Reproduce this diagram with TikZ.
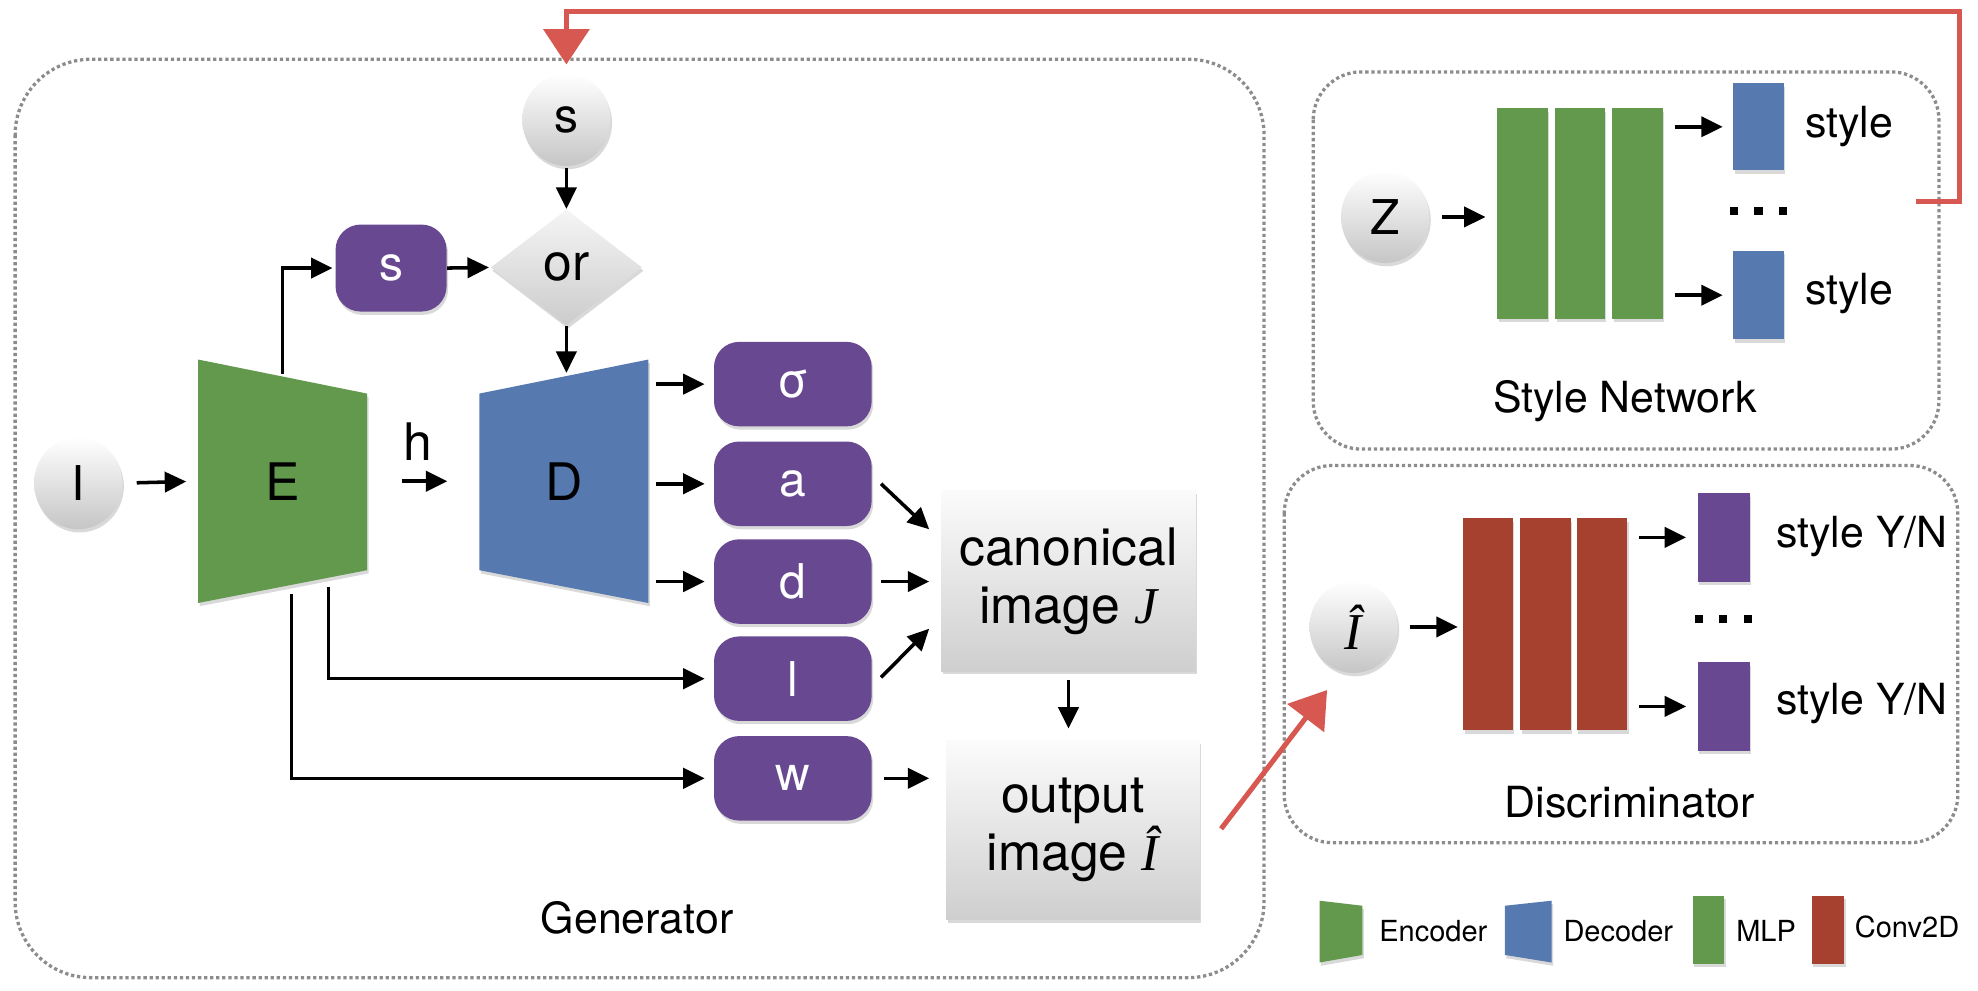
\documentclass[tikz,border=0pt]{standalone}
\usepackage{fontspec}
\setmainfont{TeX Gyre Heros}
\newfontfamily\timesfont{Liberation Serif}
\usetikzlibrary{shapes.geometric,arrows.meta,shadows,calc}
\definecolor{encgreen}{RGB}{98,153,76}
\definecolor{decblue}{RGB}{86,122,176}
\definecolor{purp}{RGB}{104,73,145}
\definecolor{convred}{RGB}{166,65,48}
\definecolor{redarrow}{RGB}{214,88,80}
\definecolor{dotgray}{RGB}{140,140,140}
\newcommand\fbig{\fontsize{20.5}{24}\selectfont}
\newcommand\fball{\fontsize{19}{22}\selectfont}
\newcommand\fpar{\fontsize{19}{22}\selectfont}
\newcommand\flab{\fontsize{17}{20}\selectfont}
\newcommand\fleg{\fontsize{11.5}{14}\selectfont}
\newcommand\timesit{\timesfont\itshape}
\begin{document}
\begin{tikzpicture}[x=0.5pt,y=-0.5pt,
  shad/.style={drop shadow={opacity=0.3,shadow xshift=0.6pt,shadow yshift=-1.3pt}},
  grp/.style={draw=dotgray,line width=1.3pt,dash pattern=on 1.3pt off 1.1pt},
  ball/.style={ellipse,minimum width=35pt,minimum height=36.5pt,inner sep=0pt,
    top color=white,bottom color=gray!45,shad,font=\fball},
  param/.style={rectangle,rounded corners=10pt,fill=purp,text=white,minimum width=62.5pt,
    minimum height=33.5pt,inner sep=0pt,font=\fpar,shad},
  imgbox/.style={rectangle,top color=gray!3,bottom color=gray!38,align=center,inner sep=0pt,
    font=\fbig,shad},
  bar/.style={rectangle,inner sep=0pt,minimum width=20pt,shad},
  arr/.style={-{Triangle[length=8.5pt,width=8pt]},line width=1.4pt},
  redarr/.style={draw=redarrow,line width=2pt,-{Triangle[length=14pt,width=18pt]}},
  lab/.style={font=\flab,inner sep=0pt},
  leg/.style={font=\fleg,inner sep=0pt,anchor=west}]
\useasboundingbox (0,0) rectangle (1568,785);

% group boxes
\draw[grp,rounded corners=30pt] (12,47) rectangle (1002,775);
\draw[grp,rounded corners=19pt] (1041,57) rectangle (1537,356);
\draw[grp,rounded corners=19pt] (1018,369) rectangle (1552,668);
\node[lab] (genlab) at (505,728) {Generator};
\node[lab] (stylab) at (1288,318) {Style Network};
\node[lab] (dislab) at (1292,636) {Discriminator};

% encoder / decoder shapes
\fill[encgreen,shad] (157,285) -- (291,312) -- (291,452) -- (157,478) -- cycle;
\fill[decblue,shad] (380,312) -- (514,285) -- (514,478) -- (380,452) -- cycle;
\node[minimum width=67pt,minimum height=96.5pt,inner sep=0pt,font=\fbig] (E) at (224,381.5) {E};
\node[minimum width=67pt,minimum height=96.5pt,inner sep=0pt,font=\fbig] (D) at (447,381.5) {D};

% generator nodes
\node[ball] (I) at (62,383) {I};
\node[ball] (s0) at (449,95) {s};
\node[param,minimum width=44pt,minimum height=34.5pt] (sb) at (310,212.5) {s};
\node[diamond,minimum width=60pt,minimum height=46pt,inner sep=0pt,top color=gray!8,
  bottom color=gray!40,shad,font=\fbig] (or) at (449,212) {or};
\node[font=\fbig,inner sep=0pt] (h) at (331,350) {h};
\node[param] (sig) at (628.5,304.5) {σ};
\node[param] (a) at (628.5,383.5) {a};
\node[param] (d) at (628.5,461) {d};
\node[param] (l) at (628.5,538) {l};
\node[param] (w) at (628.5,617) {w};
\node[imgbox,minimum width=101pt,minimum height=71.5pt] (canon) at (847,460.5)
  {canonical\\[-1pt]image {\timesit J}};
\node[imgbox,minimum width=100.5pt,minimum height=71pt] (out) at (850.5,658)
  {output\\[-1pt]image {\timesit Î}};

% generator connectors
\draw[arr,shorten <=5.5pt,shorten >=4.5pt] (I.east) -- (E.west);
\draw[arr,shorten <=13.5pt,shorten >=12.5pt] (E.east) -- (D.west);
\draw[arr,shorten >=1pt] ($(E.north)+(0,12)$) |- (sb.west);
\draw[arr,shorten >=0.5pt] (sb.east) -- (or.west);
\draw[arr,shorten <=0.5pt] (s0.south) -- (or.north);
\draw[arr] (or.south) -- ($(or.south |- D.north)+(0,11)$);
\draw[arr,shorten <=3pt,shorten >=3.5pt] (D.east |- sig.west) -- (sig.west);
\draw[arr,shorten <=3pt,shorten >=3.5pt] (D.east |- a.west) -- (a.west);
\draw[arr,shorten <=3pt,shorten >=3.5pt] (D.east |- d.west) -- (d.west);
\draw[arr,shorten >=3.5pt] ($(E.south east)+(-31,-13)$) |- (l.west);
\draw[arr,shorten >=3.5pt] ($(E.south)+(7,-7.5)$) |- (w.west);
\draw[arr] ($(a.east)+(7,0)$) -- ($(canon.north west)+(-9,31)$);
\draw[arr,shorten <=3.5pt,shorten >=4.5pt] (d.east) -- (canon.west |- d.east);
\draw[arr] ($(l.east)+(7,-1)$) -- ($(canon.south west)+(-9,-34)$);
\draw[arr,shorten <=4.5pt,shorten >=6.5pt] (w.east) -- (out.west |- w.east);
\draw[arr,shorten <=3.5pt,shorten >=4.5pt] (canon.south) -- (canon.south |- out.north);

% style network
\node[ball] (Z) at (1098,172) {Z};
\node[bar,fill=encgreen,minimum height=83.5pt] (m1) at (1207,169.5) {};
\node[bar,fill=encgreen,minimum height=83.5pt,minimum width=19.5pt] (m2) at (1252.5,169.5) {};
\node[bar,fill=encgreen,minimum height=83.5pt] (m3) at (1298,169.5) {};
\node[bar,fill=decblue,minimum height=34.5pt] (st1) at (1394,100.5) {};
\node[bar,fill=decblue,minimum height=35pt] (st2) at (1394,234) {};
\node[lab] (stt1) at (1466,100) {style};
\node[lab] (stt2) at (1466,233) {style};
\node[inner sep=0pt] (dots1) at (1394,167)
  {\rule{3.2pt}{3.2pt}\hspace{6.5pt}\rule{3.2pt}{3.2pt}\hspace{6.5pt}\rule{3.2pt}{3.2pt}};
\draw[arr,shorten <=5pt,shorten >=4.5pt] (Z.east) -- (m1.west |- Z.east);
\draw[arr,shorten <=4.5pt,shorten >=4pt] (m3.east |- st1.west) -- (st1.west);
\draw[arr,shorten <=4.5pt,shorten >=4pt] (m3.east |- st2.west) -- (st2.west);

% discriminator
\node[ball,font=\fbig] (Ih) at (1073,497) {\timesit Î};
\node[bar,fill=convred,minimum height=84pt,minimum width=19.5pt] (c1) at (1179.5,495) {};
\node[bar,fill=convred,minimum height=84pt] (c2) at (1225,495) {};
\node[bar,fill=convred,minimum height=84pt] (c3) at (1270,495) {};
\node[bar,fill=purp,minimum height=35pt,minimum width=20.5pt] (yn1) at (1366.5,426) {};
\node[bar,fill=purp,minimum height=35pt,minimum width=20.5pt] (yn2) at (1366.5,560) {};
\node[lab] (ynt1) at (1476,425) {style Y/N};
\node[lab] (ynt2) at (1476,558) {style Y/N};
\node[inner sep=0pt] (dots2) at (1366,491)
  {\rule{3.2pt}{3.2pt}\hspace{6.5pt}\rule{3.2pt}{3.2pt}\hspace{6.5pt}\rule{3.2pt}{3.2pt}};
\draw[arr,shorten <=4.5pt,shorten >=2pt] (Ih.east) -- (c1.west |- Ih.east);
\draw[arr,shorten <=4.5pt,shorten >=4.5pt] (c3.east |- yn1.west) -- (yn1.west);
\draw[arr,shorten <=4.5pt,shorten >=4.5pt] (c3.east |- yn2.west) -- (yn2.west);

% legend
\fill[encgreen,shad] (1046,714) -- (1080,718) -- (1080,757) -- (1046,763) -- cycle;
\node[leg] (lenc) at (1093,738) {Encoder};
\fill[decblue,shad] (1193,718) -- (1230,714) -- (1230,763) -- (1193,757) -- cycle;
\node[leg] (ldec) at (1239,738) {Decoder};
\fill[encgreen,shad] (1342,710) rectangle (1367,764);
\node[leg] (lmlp) at (1376,738) {MLP};
\fill[convred,shad] (1436,710) rectangle (1462,764);
\node[leg] (lconv) at (1470,735) {Conv2D};

% red feedback arrows
\coordinate (r1s) at (1519,160);
\draw[redarr] (r1s) -- (1553,160) -- (1553,9) -| ($(s0.north)+(0,-7)$);
\coordinate (r2s) at (968,657);
\coordinate (r2e) at (1052,547);
\draw[redarr] (r2s) -- (r2e);
\end{tikzpicture}
\end{document}
